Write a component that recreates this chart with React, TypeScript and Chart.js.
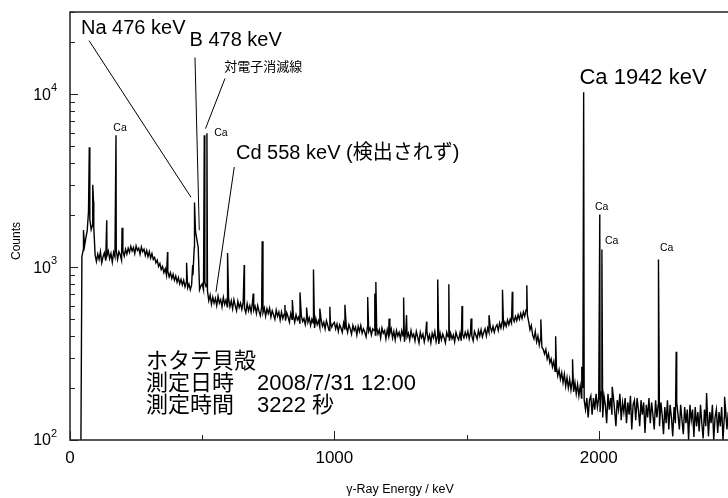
import React, { useEffect, useRef } from "react";
import { Chart, registerables } from "chart.js";

Chart.register(...registerables);

// ---- Axis ranges ----
const xMinKeV = 0;
const xMaxKeV = 2489;
const yMinCounts = 100;
const yMaxCounts = 30000;

// ---- Tick labels ----
const xTickValues = [0, 1000, 2000];
const xMinorTickValues = [500, 1500];
const yDecades = [100, 1000, 10000];
const yTickExponents = ["2", "3", "4"];

// ---- Continuum (5 keV channels) ----
const channelWidthKeV = 5;
const continuum040to495 = [
  40, 1150, 1260, 1330, 1480, 1620, 2100, 1900, 1650, 1750, 1700, 1180,
  1080, 1190, 1110, 1230, 1060, 1150, 1210, 1090, 1170, 1240, 1120, 1200,
  1070, 1220, 1150, 1250, 1110, 1230, 1180, 1100, 1240, 1160, 1270, 1190,
  1290, 1220, 1320, 1240, 1300, 1200, 1330, 1250, 1290, 1190, 1310, 1230,
  1270, 1170, 1250, 1150, 1230, 1130, 1200, 1110,
  1140, 1060, 1100, 1010, 1050, 970, 1010, 930, 980, 900, 950, 880, 930, 860,
  910, 840, 890, 820, 870, 800, 850, 790, 840, 770, 820, 760, 800, 740, 790,
  900, 1300, 1600, 1450, 1300, 740, 780,
];
const continuum500to995 = [
  800, 740, 820, 770, 730, 640, 690, 610, 670, 620,
  660, 600, 680, 620, 650, 590, 670, 610, 645, 590,
  660, 590, 640, 575, 650, 600, 560, 635, 585, 620,
  570, 625, 580, 545, 615, 560, 600, 550, 620, 565,
  595, 540, 600, 555, 525, 590, 545, 580, 520, 575,
  540, 580, 515, 560, 530, 500, 565, 520, 550, 495,
  550, 505, 535, 490, 545, 515, 480, 540, 500, 525,
  480, 530, 495, 515, 470, 525, 485, 505, 465, 515,
  480, 510, 460, 500, 475, 445, 505, 465, 490, 450,
  495, 455, 480, 440, 490, 460, 430, 480, 450, 470,
];
const continuum1000to1495 = [
  480, 440, 470, 425, 465, 445, 420, 475, 435, 455,
  420, 465, 440, 410, 460, 430, 450, 405, 455, 425,
  460, 415, 440, 420, 395, 450, 425, 445, 405, 440,
  430, 405, 450, 410, 435, 390, 445, 415, 430, 385,
  435, 400, 415, 440, 390, 425, 380, 430, 400, 420,
  385, 430, 400, 370, 425, 395, 415, 380, 430, 395,
  410, 375, 425, 395, 365, 420, 390, 410, 370, 405,
  425, 380, 405, 365, 415, 390, 425, 370, 400, 360,
  415, 380, 410, 390, 365, 420, 395, 375, 415, 385,
  405, 370, 420, 395, 380, 415, 375, 410, 390, 420,
];
const continuum1500to1995 = [
  395, 425, 385, 420, 400, 375, 425, 405, 385, 430,
  400, 435, 395, 420, 440, 400, 445, 420, 450, 425,
  455, 420, 450, 465, 430, 475, 445, 485, 450, 480,
  455, 495, 465, 500, 475, 510, 485, 520, 490, 530,
  500, 540, 505, 550, 520, 565, 530, 485, 435, 460,
  405, 385, 425, 370, 400, 355, 390, 345, 335, 315,
  335, 295, 315, 280, 295, 265, 285, 250, 265, 235,
  255, 225, 245, 215, 240, 205, 230, 200, 225, 195,
  220, 190, 215, 185, 210, 180, 205, 175, 200, 170,
  150, 175, 135, 170, 180, 140, 175, 150, 185, 155,
];
const continuum2000to2495 = [
  175, 145, 190, 135, 180, 160, 125, 185, 150, 175,
  140, 180, 150, 120, 170, 150, 185, 130, 165, 145,
  175, 125, 165, 140, 180, 115, 160, 170, 130, 175,
  150, 120, 170, 140, 165, 110, 160, 135, 175, 125,
  165, 140, 115, 170, 135, 160, 120, 165, 140, 108,
  155, 125, 170, 115, 160, 135, 105, 155, 125, 165,
  140, 115, 160, 130, 108, 155, 125, 150, 100, 160,
  130, 150, 104, 155, 120, 145, 112, 160, 125, 102,
  150, 120, 155, 105, 145, 125, 160, 100, 135, 150,
  110, 145, 120, 155, 100, 135, 150, 115, 145, 125,
];
const continuumStarts = [40, 500, 1000, 1500, 2000];

// ---- Peaks ----
const peakEnergies = [
  51, 73, 86, 89, 139, 174, 197, 369, 441, 464, 471, 508, 518, 596, 659, 693,
  727, 813, 841, 870, 895, 921, 945, 983, 1040, 1126, 1153, 1157, 1207, 1262,
  1273, 1349, 1391, 1433, 1483, 1517, 1585, 1636, 1673, 1728, 1781, 1837,
  1901, 1936, 1943, 2004, 2012, 2051, 2226, 2293, 2408, 2476,
];
const peakCounts = [
  1640, 4950, 3000, 2400, 1870, 5800, 1690, 1225, 1060, 1030, 2370, 5800, 5970,
  1210, 1030, 705, 1415, 605, 645, 715, 585, 970, 577, 590, 607, 673, 705, 822,
  505, 668, 528, 484, 849, 797, 596, 505, 528, 740, 720, 787, 499, 399, 293,
  265, 10300, 2020, 1265, 203, 1107, 324, 187, 178,
];

// ---- Annotations ----
const FONT = '"Liberation Sans", Arial, "Noto Sans CJK JP", sans-serif';
const labelTexts = [
  "Na 476 keV",
  "B 478 keV",
  "対電子消滅線",
  "Cd 558 keV (検出されず)",
  "Ca 1942 keV",
  "Ca", "Ca", "Ca", "Ca", "Ca",
  "ホタテ貝殻",
  "測定日時",
  "2008/7/31 12:00",
  "測定時間",
  "3222 秒",
];
const labelAnchors: [number, number][] = [
  [41.6, 22390],
  [452, 19010],
  [583.6, 14320],
  [627.8, 4250],
  [1927, 11530],
  [163.8, 6350],
  [545.8, 5960],
  [1985.6, 2234],
  [2023.4, 1413],
  [2231.5, 1282],
  [287.4, 282.5],
  [287.4, 211],
  [707.3, 211],
  [287.4, 157],
  [707.3, 157],
];
const labelSizes = [20, 20, 13, 20, 22, 10.5, 10.5, 10.5, 10.5, 10.5, 22, 22, 22, 22, 22];
const labelBaselines = [
  "alphabetic", "alphabetic", "middle", "alphabetic", "alphabetic",
  "middle", "middle", "middle", "middle", "middle",
  "middle", "middle", "middle", "middle", "middle",
];
const leaderLines: [number, number, number, number][] = [
  [71.9, 20500, 457.6, 2541],
  [472.8, 16370, 489, 1637],
  [586.2, 12360, 512.5, 6340],
  [621.4, 3800, 552.2, 720],
];

const decorPlugin = {
  id: "decor",
  afterDraw(chart: any) {
    const { ctx, chartArea: a, scales } = chart;
    const xs = scales.x;
    const ys = scales.y;
    ctx.save();

    // leader lines
    ctx.strokeStyle = "#000";
    ctx.lineWidth = 1;
    leaderLines.forEach(([e1, c1, e2, c2]) => {
      ctx.beginPath();
      ctx.moveTo(xs.getPixelForValue(e1), ys.getPixelForValue(c1));
      ctx.lineTo(xs.getPixelForValue(e2), ys.getPixelForValue(c2));
      ctx.stroke();
    });

    // frame
    ctx.strokeStyle = "#222";
    ctx.lineWidth = 1.5;
    ctx.beginPath();
    ctx.moveTo(a.right, a.top);
    ctx.lineTo(a.left, a.top);
    ctx.lineTo(a.left, a.bottom);
    ctx.lineTo(a.right, a.bottom);
    ctx.stroke();

    // y ticks
    ctx.lineWidth = 1;
    ctx.strokeStyle = "#222";
    yDecades.forEach((d) => {
      for (let m = 1; m <= 9; m++) {
        const v = m * d;
        if (v > yMaxCounts) break;
        const y = Math.round(ys.getPixelForValue(v)) + 0.5;
        const len = m === 1 ? 8 : 5;
        ctx.beginPath();
        ctx.moveTo(a.left, y);
        ctx.lineTo(a.left + len, y);
        ctx.stroke();
      }
    });
    // x ticks
    [...xTickValues, ...xMinorTickValues].forEach((v) => {
      const x = Math.round(xs.getPixelForValue(v)) + 0.5;
      const len = v % 1000 === 0 ? 9 : 5;
      ctx.beginPath();
      ctx.moveTo(x, a.bottom);
      ctx.lineTo(x, a.bottom - len);
      ctx.stroke();
    });

    ctx.fillStyle = "#000";
    // y tick labels
    yDecades.forEach((d, i) => {
      const y = ys.getPixelForValue(d);
      ctx.font = `16px ${FONT}`;
      ctx.textAlign = "right";
      ctx.textBaseline = "middle";
      ctx.fillText("10", a.left - 19, y + 1);
      ctx.font = `11px ${FONT}`;
      ctx.textAlign = "left";
      ctx.fillText(yTickExponents[i], a.left - 19, y - 6);
    });
    // x tick labels
    ctx.font = `17px ${FONT}`;
    ctx.textAlign = "center";
    ctx.textBaseline = "middle";
    xTickValues.forEach((v) => {
      ctx.fillText(String(v), xs.getPixelForValue(v), a.bottom + 18);
    });

    // axis titles
    ctx.font = `12.5px ${FONT}`;
    ctx.fillText("γ-Ray Energy / keV", 400, a.bottom + 50);
    ctx.save();
    ctx.translate(17, 241);
    ctx.rotate(-Math.PI / 2);
    ctx.font = `12px ${FONT}`;
    ctx.fillText("Counts", 0, 0);
    ctx.restore();

    // annotation texts
    ctx.textAlign = "left";
    labelTexts.forEach((t, i) => {
      const [e, c] = labelAnchors[i];
      ctx.font = `${labelSizes[i]}px ${FONT}`;
      ctx.textBaseline = labelBaselines[i];
      ctx.fillText(t, xs.getPixelForValue(e), ys.getPixelForValue(c));
    });

    ctx.restore();
  },
};

export default function App() {
  const canvasRef = useRef<HTMLCanvasElement | null>(null);

  useEffect(() => {
    const canvas = canvasRef.current;
    if (!canvas) return;
    const points: { x: number; y: number }[] = [];
    const segments = [
      continuum040to495,
      continuum500to995,
      continuum1000to1495,
      continuum1500to1995,
      continuum2000to2495,
    ];
    segments.forEach((arr, s) => {
      arr.forEach((v, i) => {
        points.push({ x: continuumStarts[s] + i * channelWidthKeV, y: v });
      });
    });
    peakEnergies.forEach((e, i) => points.push({ x: e, y: peakCounts[i] }));
    points.sort((p, q) => p.x - q.x);

    const chart = new Chart(canvas, {
      type: "line",
      data: {
        datasets: [
          {
            data: points,
            borderColor: "#000",
            borderWidth: 1.4,
            pointRadius: 0,
            tension: 0,
            fill: false,
          },
        ],
      },
      options: {
        responsive: false,
        animation: false,
        parsing: true,
        layout: { padding: { left: 70, top: 12, right: 0, bottom: 58 } },
        scales: {
          x: { type: "linear", min: xMinKeV, max: xMaxKeV, display: false },
          y: { type: "logarithmic", min: yMinCounts, max: yMaxCounts, display: false },
        },
        plugins: {
          legend: { display: false },
          tooltip: { enabled: false },
        },
      },
      plugins: [decorPlugin],
    });
    return () => chart.destroy();
  }, []);

  return (
    <div style={{ position: "fixed", left: 0, top: 0, width: 728, height: 498, background: "#fff" }}>
      <canvas ref={canvasRef} width={728} height={498} style={{ display: "block" }} />
    </div>
  );
}
